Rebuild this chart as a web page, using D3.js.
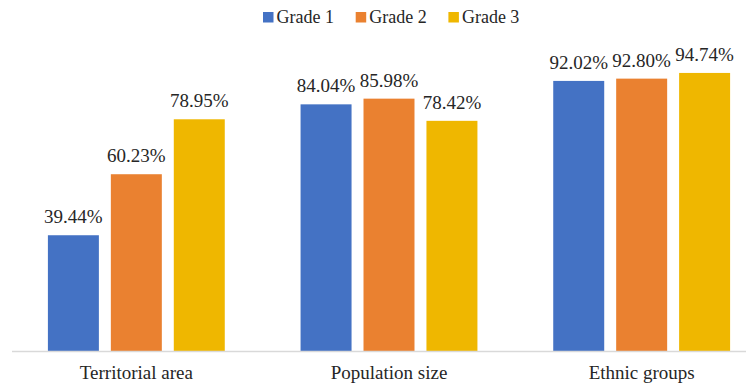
<!DOCTYPE html>
<meta charset="utf-8">
<head>
  <title>Grades by category</title>
</head>

<style>
body {
  margin: 0;
  background: #fff;
}
</style>

<body>
  <div id="content">
    <svg width="746" height="388" font-family="Liberation Serif"></svg>
  </div>

  <script src="https://cdnjs.cloudflare.com/ajax/libs/d3/7.8.5/d3.min.js"></script>

  <script>
var categories = ['Territorial area', 'Population size', 'Ethnic groups'];
var grades = ['Grade 1', 'Grade 2', 'Grade 3'];
var grade1 = [39.44, 84.04, 92.02];
var grade2 = [60.23, 85.98, 92.80];
var grade3 = [78.95, 78.42, 94.74];
var colors = ['#4472C4', '#EA8130', '#EFB700'];

var series = [grade1, grade2, grade3];
var FONT = 'Liberation Serif';
var INK = '#262626';

var svg = d3.select('#content svg');

var x0 = d3.scaleBand()
  .domain(categories)
  .range([10, 768])
  .paddingInner(0.3)
  .paddingOuter(0.15);

var x1 = d3.scaleBand()
  .domain(grades)
  .range([0, x0.bandwidth()])
  .paddingInner(0.19);

var y = d3.scaleLinear()
  .domain([0, 100])
  .range([351, 57.5]);

var color = d3.scaleOrdinal()
  .domain(grades)
  .range(colors);

function rows(d, i) {
  return grades.map(function(g, j) { return {grade: g, value: series[j][i]}; });
}

// bars
var groups = svg.selectAll('g.cat')
  .data(categories)
  .enter().append('g')
  .attr('class', 'cat')
  .attr('transform', function(d) { return 'translate(' + x0(d) + ',0)'; });

groups.selectAll('rect')
  .data(rows)
  .enter().append('rect')
  .attr('x', function(d) { return x1(d.grade); })
  .attr('y', function(d) { return y(d.value); })
  .attr('width', x1.bandwidth())
  .attr('height', function(d) { return y(0) - y(d.value); })
  .attr('fill', function(d) { return color(d.grade); });

groups.selectAll('text.val')
  .data(rows)
  .enter().append('text')
  .attr('class', 'val')
  .attr('x', function(d) { return x1(d.grade) + x1.bandwidth() / 2; })
  .attr('y', function(d) { return y(d.value) - 12; })
  .attr('text-anchor', 'middle')
  .attr('font-family', FONT)
  .attr('font-size', 19)
  .attr('fill', INK)
  .text(function(d) { return d.value.toFixed(2) + '%'; });

// baseline + category labels
var xAxis = svg.append('g')
  .attr('transform', 'translate(0,' + y(0) + ')')
  .call(d3.axisBottom(x0).tickSize(0).tickPadding(0));

xAxis.attr('font-family', FONT).attr('font-size', 19);

xAxis.select('.domain')
  .attr('d', 'M12,0.5H746')
  .attr('stroke', '#d9d9d9')
  .attr('stroke-width', 1.5);

xAxis.selectAll('.tick text')
  .attr('dy', null)
  .attr('y', 28)
  .attr('font-family', FONT)
  .attr('font-size', 19)
  .attr('fill', INK);

// legend
var legend = svg.append('g')
  .selectAll('g')
  .data(grades)
  .enter().append('g')
  .attr('transform', function(d, i) { return 'translate(' + (263 + i * 92.7) + ',0)'; });

legend.append('rect')
  .attr('x', 0)
  .attr('y', 12)
  .attr('width', 10.5)
  .attr('height', 10.5)
  .attr('fill', function(d) { return color(d); });

legend.append('text')
  .attr('x', 13.5)
  .attr('y', 23)
  .attr('font-family', FONT)
  .attr('font-size', 18)
  .attr('fill', INK)
  .text(function(d) { return d; });
  </script>
</body>
</html>
